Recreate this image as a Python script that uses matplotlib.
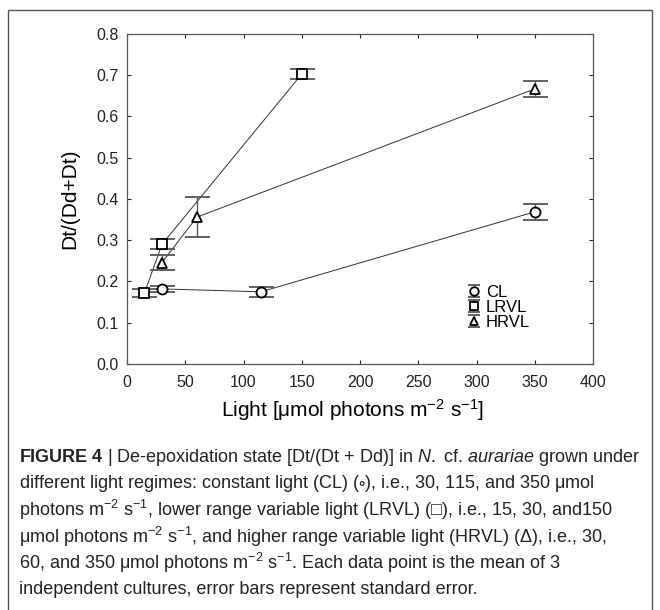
import matplotlib
matplotlib.use('Agg')
import matplotlib.pyplot as plt
from matplotlib.patches import Rectangle
from matplotlib.legend_handler import HandlerErrorbar
from matplotlib.container import ErrorbarContainer

plt.rcParams['font.family'] = ['Liberation Sans', 'DejaVu Sans']
plt.rcParams['mathtext.fontset'] = 'custom'
plt.rcParams['mathtext.rm'] = 'Liberation Sans'
plt.rcParams['mathtext.it'] = 'Liberation Sans:italic'
plt.rcParams['mathtext.bf'] = 'Liberation Sans:bold'
plt.rcParams['mathtext.fallback'] = 'stixsans'

# Dados
cl_x = [30, 115, 350]
cl_y = [0.182, 0.175, 0.369]
cl_err = [0.008, 0.012, 0.019]

lrvl_x = [15, 30, 150]
lrvl_y = [0.172, 0.290, 0.703]
lrvl_err = [0.010, 0.012, 0.013]

hrvl_x = [30, 60, 350]
hrvl_y = [0.246, 0.356, 0.667]
hrvl_err = [0.018, 0.049, 0.020]

series = [
    ('CL', cl_x, cl_y, cl_err, 'o', 7.2),
    ('LRVL', lrvl_x, lrvl_y, lrvl_err, 's', 7.5),
    ('HRVL', hrvl_x, hrvl_y, hrvl_err, '^', 6.5),
]

caption = [
    r"$\mathbf{FIGURE\ 4}$ | De-epoxidation state [Dt/(Dt + Dd)] in $\mathit{N.}\ $cf. $\mathit{aurariae}$ grown under",
    r"different light regimes: constant light (CL) (${\circ}$), i.e., 30, 115, and 350 μmol",
    "photons m$^{-2}$ s$^{-1}$, lower range variable light (LRVL) (${\u25a1}$), i.e., 15, 30, and150",
    r"μmol photons m$^{-2}$ s$^{-1}$, and higher range variable light (HRVL) (Δ), i.e., 30,",
    r"60, and 350 μmol photons m$^{-2}$ s$^{-1}$. Each data point is the mean of 3",
    r"independent cultures, error bars represent standard error.",
]

fig = plt.figure(figsize=(6.6, 6.1), dpi=100)
ax = fig.add_axes([0.1924, 0.4033, 0.7065, 0.541])

for nome, x, y, err, mk, ms in series:
    ax.plot(x, y, color='#333333', lw=0.7, zorder=2)
    ax.errorbar(x, y, yerr=err, fmt=mk, ms=ms, mfc='white', mec='black', mew=1.3,
                ecolor='#555555', elinewidth=1.0, capsize=9, capthick=1.0, zorder=3)
    # entrada da legenda com barras mais pequenas
    ax.errorbar([float('nan')], [float('nan')], yerr=[0.01], fmt=mk, ms=ms * 0.85,
                mfc='white', mec='black', mew=1.3, ecolor='#555555',
                elinewidth=1.0, capsize=4, capthick=1.0, label=nome)

ax.set_xlim(0, 400)
ax.set_ylim(0, 0.8)
ax.set_xticks(range(0, 401, 50))
ax.set_yticks([i / 10 for i in range(9)])
ax.yaxis.set_major_formatter(matplotlib.ticker.FormatStrFormatter('%.1f'))
ax.tick_params(direction='in', length=3, width=0.8, top=True, right=True,
               labelsize=11.5, colors='#222222')
ax.tick_params(axis='x', pad=8)
ax.tick_params(axis='y', pad=6)
for s in ax.spines.values():
    s.set_color('#555555')
    s.set_linewidth(0.9)

ax.set_xlabel('Light [μmol photons m$^{-2}$ s$^{-1}$]', fontsize=15, labelpad=5)
ax.xaxis.label.set_x(0.483)
ax.set_ylabel('Dt/(Dd+Dt)', fontsize=15, labelpad=12)

ax.legend(loc='upper left', bbox_to_anchor=(0.712, 0.265), frameon=False,
          fontsize=12, handlelength=0.8, handletextpad=0.3, labelspacing=0.0,
          borderpad=0,
          handler_map={ErrorbarContainer: HandlerErrorbar(yerr_size=0.38)})

# Caixa exterior e legenda da figura
fig.patches.append(Rectangle((8 / 660, -0.05), 644 / 660, 1 + 0.05 - 10 / 610,
                             transform=fig.transFigure, fill=False,
                             edgecolor='#555555', lw=1.0))
for i, linha in enumerate(caption):
    fig.text(19 / 660, 1 - (457 + i * 26.6) / 610, linha, fontsize=13,
             va='center', ha='left', color='#222222')

fig.savefig('out.png', dpi=100)
